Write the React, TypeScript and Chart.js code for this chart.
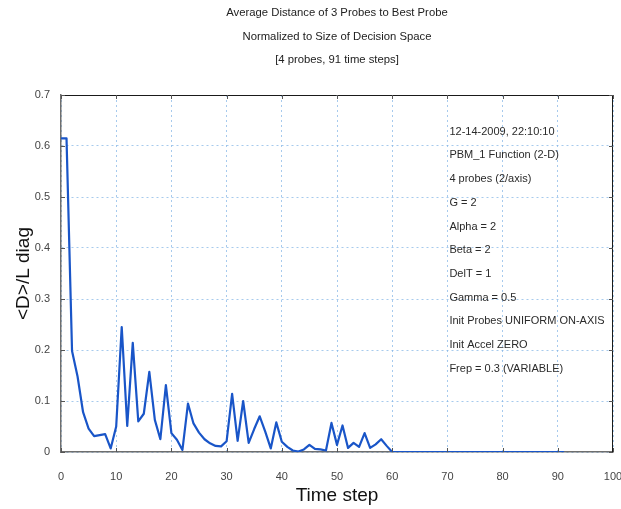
import React, { useEffect, useRef } from "react";
import { Chart, registerables } from "chart.js";

Chart.register(...registerables);

const titleLines = [
  "Average Distance of 3 Probes to Best Probe",
  "Normalized to Size of Decision Space",
  "[4 probes, 91 time steps]",
];

const infoLines = [
  "12-14-2009, 22:10:10",
  "PBM_1 Function (2-D)",
  "4 probes (2/axis)",
  "G = 2",
  "Alpha = 2",
  "Beta = 2",
  "DelT = 1",
  "Gamma = 0.5",
  "Init Probes UNIFORM ON-AXIS",
  "Init Accel ZERO",
  "Frep = 0.3 (VARIABLE)",
];

const xAxisLabel = "Time step";
const yAxisLabel = "<D>/L diag";

const xTicks = [0, 10, 20, 30, 40, 50, 60, 70, 80, 90, 100];
const yTicks = [0, 0.1, 0.2, 0.3, 0.4, 0.5, 0.6, 0.7];
const yTickLabels = ["0", "0.1", "0.2", "0.3", "0.4", "0.5", "0.6", "0.7"];

const timeSteps = [
  0, 1, 2, 3, 4, 5, 6, 7, 8, 9,
  10, 11, 12, 13, 14, 15, 16, 17, 18, 19,
  20, 21, 22, 23, 24, 25, 26, 27, 28, 29,
  30, 31, 32, 33, 34, 35, 36, 37, 38, 39,
  40, 41, 42, 43, 44, 45, 46, 47, 48, 49,
  50, 51, 52, 53, 54, 55, 56, 57, 58, 59,
  60, 61, 62, 63, 64, 65, 66, 67, 68, 69,
  70, 71, 72, 73, 74, 75, 76, 77, 78, 79,
  80, 81, 82, 83, 84, 85, 86, 87, 88, 89,
  90, 91,
];

const avgDistance = [
  0.615, 0.615, 0.198, 0.148, 0.078, 0.046, 0.031, 0.033, 0.035, 0.007,
  0.05, 0.245, 0.051, 0.214, 0.06, 0.075, 0.157, 0.063, 0.025, 0.131,
  0.037, 0.024, 0.004, 0.095, 0.056, 0.038, 0.025, 0.017, 0.012, 0.011,
  0.021, 0.114, 0.022, 0.1, 0.018, 0.045, 0.07, 0.04, 0.007, 0.058,
  0.02, 0.01, 0.003, 0.001, 0.005, 0.014, 0.006, 0.005, 0.003, 0.057,
  0.014, 0.052, 0.008, 0.018, 0.01, 0.037, 0.008, 0.015, 0.025, 0.012,
  0, 0, 0, 0, 0, 0, 0, 0, 0, 0,
  0, 0, 0, 0, 0, 0, 0, 0, 0, 0,
  0, 0, 0, 0, 0, 0, 0, 0, 0, 0,
  0, 0,
];

const FONT = '"Liberation Sans", Arial, sans-serif';
const GRID_COLOR = "rgba(130,180,230,0.7)";

export default function App() {
  const ref = useRef<HTMLCanvasElement>(null);

  useEffect(() => {
    if (!ref.current) return;

    const overlay = {
      id: "overlay",
      afterDraw(chart: any) {
        const { ctx, chartArea: a, scales } = chart;
        const xs = scales.x;
        const ys = scales.y;
        ctx.save();
        // top & right frame
        ctx.strokeStyle = "#1a1a1a";
        ctx.lineWidth = 1;
        ctx.beginPath();
        ctx.moveTo(a.left, a.top + 0.5);
        ctx.lineTo(a.right - 0.5, a.top + 0.5);
        ctx.lineTo(a.right - 0.5, a.bottom);
        ctx.stroke();
        // inward tick marks
        ctx.strokeStyle = "#555";
        ctx.beginPath();
        xTicks.forEach((v) => {
          const px = Math.round(xs.getPixelForValue(v)) + 0.5;
          ctx.moveTo(px, a.bottom);
          ctx.lineTo(px, a.bottom - 4);
          ctx.moveTo(px, a.top);
          ctx.lineTo(px, a.top + 4);
        });
        yTicks.forEach((v) => {
          const py = Math.round(ys.getPixelForValue(v)) + 0.5;
          ctx.moveTo(a.left, py);
          ctx.lineTo(a.left + 4, py);
          ctx.moveTo(a.right, py);
          ctx.lineTo(a.right - 4, py);
        });
        ctx.stroke();
        // titles
        ctx.fillStyle = "#222";
        ctx.font = "11.3px " + FONT;
        ctx.textAlign = "center";
        ctx.textBaseline = "middle";
        const cx = (a.left + a.right) / 2;
        titleLines.forEach((t, i) => ctx.fillText(t, cx, 13 + i * 23.5));
        // info block
        ctx.fillStyle = "#2a2a2a";
        ctx.font = "11px " + FONT;
        ctx.textAlign = "left";
        const ix = xs.getPixelForValue(70) + 2;
        const iy = ys.getPixelForValue(0.628);
        infoLines.forEach((t, i) => ctx.fillText(t, ix, iy + i * 23.7));
        ctx.restore();
      },
    };

    const chart = new Chart(ref.current, {
      type: "line",
      data: {
        datasets: [
          {
            data: timeSteps.map((t, i) => ({ x: t, y: avgDistance[i] })),
            borderColor: "rgb(25,85,200)",
            borderWidth: 2.2,
            borderJoinStyle: "round",
            borderCapStyle: "round",
            pointRadius: 0,
            tension: 0,
            fill: false,
          },
        ],
      },
      options: {
        animation: false,
        responsive: false,
        layout: { padding: { top: 95, right: 8, bottom: 0, left: 0 } },
        plugins: {
          legend: { display: false },
          tooltip: { enabled: false },
          title: { display: false },
        },
        scales: {
          x: {
            type: "linear",
            min: 0,
            max: 100,
            afterBuildTicks: (s: any) => {
              s.ticks = xTicks.map((v) => ({ value: v }));
            },
            afterFit: (s: any) => {
              s.height = 57;
              s.paddingLeft = 0;
              s.paddingRight = 0;
            },
            grid: { color: GRID_COLOR, lineWidth: 1, drawTicks: false },
            border: { display: true, color: "#6e6e6e", width: 1.5, dash: [2, 3] },
            ticks: {
              color: "#444",
              font: { size: 11, family: FONT },
              padding: 18,
              maxRotation: 0,
              autoSkip: false,
              callback: (v: any) => String(v),
            },
            title: {
              display: true,
              text: xAxisLabel,
              color: "#111",
              font: { size: 19, family: FONT },
              padding: { top: 0, bottom: 2 },
            },
          },
          y: {
            type: "linear",
            min: 0,
            max: 0.7,
            afterBuildTicks: (s: any) => {
              s.ticks = yTicks.map((v) => ({ value: v }));
            },
            afterFit: (s: any) => {
              s.width = 61;
              s.paddingTop = 0;
              s.paddingBottom = 0;
            },
            grid: { color: GRID_COLOR, lineWidth: 1, drawTicks: false },
            border: { display: true, color: "#6e6e6e", width: 1.5, dash: [2, 3] },
            ticks: {
              color: "#444",
              font: { size: 11, family: FONT },
              padding: 11,
              autoSkip: false,
              callback: (_v: any, i: number) => yTickLabels[i],
            },
            title: {
              display: true,
              text: yAxisLabel,
              color: "#111",
              font: { size: 19, family: FONT },
              padding: { top: 12, bottom: 0 },
            },
          },
        },
      },
      plugins: [overlay],
    });

    return () => chart.destroy();
  }, []);

  return (
    <div
      style={{
        position: "fixed",
        left: 0,
        top: 0,
        width: 621,
        height: 509,
        background: "#fff",
      }}
    >
      <canvas ref={ref} width={621} height={509} style={{ display: "block" }} />
    </div>
  );
}
